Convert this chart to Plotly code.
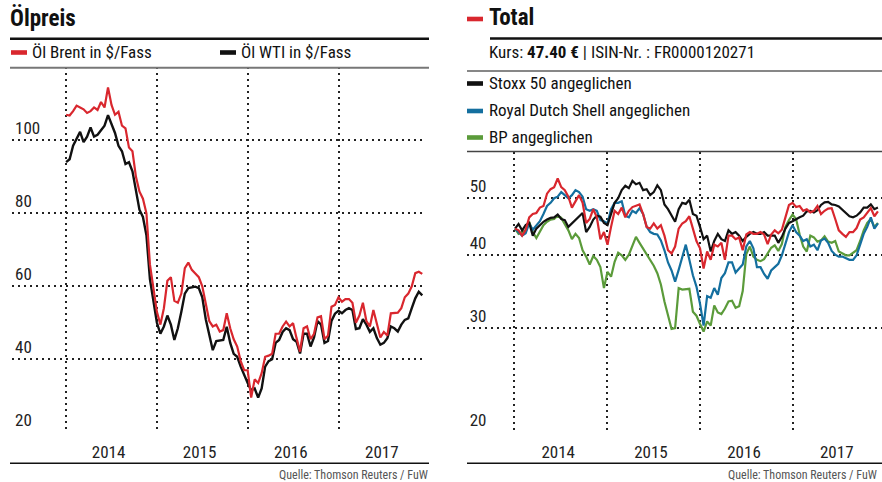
import math
import pandas as pd
import plotly.graph_objects as go

# ---------------- data ----------------
dates = pd.date_range("2014-01-03", periods=103, freq="14D")

brent = [107, 106.8, 108, 109.5, 109, 108.5, 107.5, 108, 109, 108.3,
         110.5, 109, 114.5, 109.7, 107, 107.8, 104, 103.3, 98, 97,
         90, 86, 84, 80, 66, 60, 53, 49.5, 54, 61.5,
         62.5, 56, 55.5, 58, 65, 66.5, 64.5, 63.5, 62.5, 60,
         55, 50.5, 49, 49.5, 47.6, 48, 52.6, 48.5, 45.5, 43.5,
         39.5, 37, 37, 29.5, 34.5, 33.5, 36.2, 40.7, 41, 41.5,
         47, 47, 49, 50.3, 49, 49.9, 45.8, 42.1, 48.5, 49,
         45.5, 47, 51.5, 51.8, 45.5, 46.5, 54.4, 54.9, 57, 55.8,
         56.5, 56.5, 55.5, 50, 52, 55.5, 50.5, 49, 53.5, 49.5,
         46, 47.5, 46.5, 52.6, 52.6, 52.8, 54, 57, 58, 60,
         63.6, 64, 63.4]

wti = [94, 94.8, 98.5, 100.5, 102.3, 99.5, 101, 103.5, 101, 101.5,
       102.8, 104, 106.9, 104.5, 102, 98.5, 97, 93.5, 94, 91.5,
       86, 81, 79, 74, 62, 56, 50, 47, 49, 52,
       49.5, 45.3, 48.5, 53, 58, 59.5, 59.7, 59.9, 59.5, 57,
       51, 47, 42.5, 45, 45.1, 45.3, 48.9, 44.5, 41.5, 40.7,
       38, 35.5, 33.5, 31.5, 32, 29.5, 32, 38, 39.5, 40,
       44.5, 45.3, 47.5, 48.5, 48, 45.5, 44.8, 41.6, 47, 47,
       43.5, 46, 50.5, 49.5, 44.5, 45, 50.5, 52.5, 53.3, 52.6,
       53.5, 54, 53.5, 48.3, 48.5, 51, 49.5, 47.5, 48.5, 45.8,
       44, 44.5, 45.8, 49, 48.5, 47.6, 49.5, 50.8, 51.2, 54,
       56.7, 58.5, 57.5]

stoxx = [44.3, 45.1, 44, 44.9, 45.3, 43.1, 44.3, 44.9, 45.5, 45.9,
         46.2, 46.3, 46.8, 46, 45.8, 44.6, 45.2, 45.9, 46.5, 47.1,
         43.7, 44.6, 45.9, 46.6, 46.4, 45.3, 44.9, 47, 49, 49.9,
         51.5, 52.4, 51.9, 53.4, 52.7, 53, 51.5, 51.7, 50.5, 51.1,
         52.5, 51.5, 48.7, 47.8, 46.6, 45.5, 47.8, 49, 48.8, 49.6,
         46.9, 46.6, 44.6, 42.5, 43.1, 40.5, 42.2, 43.4, 42.5, 42.2,
         44, 43.4, 43.7, 43.1, 42.2, 42.9, 43.4, 43.7, 43.4, 43.4,
         43.7, 43.1, 43.1, 43.1, 41.9, 42.9, 44.3, 45.3, 45.6, 46,
         46.3, 46.6, 47.4, 47.5, 47.2, 47.6, 48.6, 49.1, 49.2, 48.7,
         48.6, 48.3, 47.7, 47.1, 46.5, 46.3, 46.6, 47.2, 48.1, 48.1,
         48.7, 47.8, 48.1]

total = [44.3, 44, 43.1, 44.1, 46.3, 46.9, 47.1, 48.1, 48.4, 50.8,
         51.7, 52.1, 53.9, 52.1, 51.5, 50.2, 48.1, 49.3, 50.5, 49,
         45.3, 46, 47.8, 46.3, 42.5, 43.7, 41.6, 44.6, 47.5, 46.9,
         48.1, 46.3, 47.5, 48.2, 48.4, 48.7, 46.9, 44.6, 44.3, 45.2,
         44.3, 44.9, 43.1, 40.7, 40.2, 41.3, 44.3, 45.2, 45.6, 46.5,
         44.3, 42.2, 41, 37.9, 40.5, 39.2, 41.6, 41.3, 41.9, 39.2,
         43.1, 43.1, 42.5, 42.8, 40.7, 43.3, 43.7, 43.4, 43.4, 43.7,
         43.3, 41.7, 43.3, 44, 43.5, 44.1, 46.3, 48.6, 49, 48.2,
         48.4, 47.5, 47.8, 47.2, 47.5, 48.4, 46.9, 47.5, 47.9, 48,
         46, 44, 43.4, 42.9, 43.7, 43.7, 44.4, 45.9, 46.3, 47.1,
         48, 46.5, 47.4]

shell = [44.3, 43.7, 43.1, 43.5, 45.2, 44.1, 44.9, 45.6, 46.9, 48.4,
         49, 49.9, 50.2, 51.1, 50.5, 49.9, 50.5, 51.5, 51.1, 50.2,
         47.8, 47.5, 47.8, 47.5, 45.8, 45.6, 45.2, 47.8, 49, 49,
         49.3, 46.6, 46.3, 47.5, 47.1, 48, 46.9, 44.6, 43.7, 43.4,
         43.3, 42.3, 40.7, 38.8, 37.6, 36, 37.7, 39.7, 41.6, 39.2,
         36.9, 35.3, 33, 30.3, 34, 33.8, 35.1, 34.2, 36.5, 37.2,
         38.8, 38.8, 37.3, 37.9, 38.5, 41.3, 42.2, 41, 38.1, 38.1,
         37.1, 36.4, 37.6, 38.1, 38.6, 39.9, 41.9, 43.7, 44.9, 43.7,
         43.1, 42.2, 42.5, 41.3, 41.6, 40.7, 42.3, 42.6, 41.9, 40.6,
         40, 39.7, 39.7, 39.4, 39.2, 39.2, 39.9, 41.6, 43.4, 44.6,
         46.3, 44.3, 45.2]

bp = [44.3, 43.4, 43.7, 44, 45.5, 43.7, 42.7, 43.7, 44.9, 45.5,
      45.9, 46, 46.6, 46.2, 45.2, 44, 42.5, 43.4, 42.7, 40.7,
      39.7, 38.5, 39.8, 39.2, 38.1, 35.1, 37.4, 36.7, 38.9, 40.3,
      39.9, 39.2, 40, 41.6, 42.9, 41.9, 41, 40.2, 39.2, 38.3,
      37.2, 35.6, 33.3, 31.7, 29.9, 30, 35.1, 34.9, 34.9, 35,
      32, 31.5, 30.5, 29.6, 30.8, 30.3, 32.8, 31.9, 31.7, 32.4,
      33.3, 33.4, 32.5, 32.7, 34.7, 40.1, 41.3, 39.7, 39.2, 39,
      39.3, 40.2, 41.1, 41.5, 40.6, 41.7, 44.6, 45.8, 46.8, 46,
      43.3, 41.3, 40.5, 43.1, 42.8, 42.1, 42.3, 43, 42.1, 41.9,
      42.2, 40.5, 40.2, 39.9, 39.9, 40.3, 40.7, 42.2, 44, 45.3,
      46, 44.6, 45.3]

years = ["2014", "2015", "2016", "2017"]
year_starts = ["2014-01-01", "2015-01-01", "2016-01-01", "2017-01-01"]
year_labels_at = ["2014-06-22", "2015-06-22", "2016-06-22", "2017-06-22"]
left_yticks = [20, 40, 60, 80, 100]
right_yticks = [20, 30, 40, 50]

# ---------------- style ----------------
RED = "#d9272e"
BLACK = "#111111"
BLUE = "#146f9f"
GREEN = "#5b9b3a"
GRID = "#222222"
FONT = "Roboto Condensed, Liberation Sans Narrow, Arial Narrow, sans-serif"
W, H = 882, 482


def px(x):
    return x / W


def py(y):
    return 1 - y / H


fig = go.Figure()

# left panel
fig.add_trace(go.Scatter(x=dates, y=wti, mode="lines", name="Öl WTI in $/Fass",
                         line=dict(color=BLACK, width=2.4), xaxis="x", yaxis="y"))
fig.add_trace(go.Scatter(x=dates, y=brent, mode="lines", name="Öl Brent in $/Fass",
                         line=dict(color=RED, width=2.2), xaxis="x", yaxis="y"))

# right panel
fig.add_trace(go.Scatter(x=dates, y=bp, mode="lines", name="BP angeglichen",
                         line=dict(color=GREEN, width=2.2), xaxis="x2", yaxis="y2"))
fig.add_trace(go.Scatter(x=dates, y=shell, mode="lines", name="Royal Dutch Shell angeglichen",
                         line=dict(color=BLUE, width=2.2), xaxis="x2", yaxis="y2"))
fig.add_trace(go.Scatter(x=dates, y=stoxx, mode="lines", name="Stoxx 50 angeglichen",
                         line=dict(color=BLACK, width=2.2), xaxis="x2", yaxis="y2"))
fig.add_trace(go.Scatter(x=dates, y=total, mode="lines", name="Total",
                         line=dict(color=RED, width=2.2), xaxis="x2", yaxis="y2"))

DOT = "2px,4px"
tickfont = dict(family=FONT, size=17, color="#222")

xcommon = dict(type="date", tickvals=year_labels_at, ticktext=years, showgrid=False,
               ticks="", showline=False, zeroline=False, tickfont=tickfont,
               ticklabelstandoff=8,
               minor=dict(tickvals=year_starts, showgrid=True, gridcolor=GRID,
                          griddash=DOT, gridwidth=1.6, ticks=""))
ycommon = dict(showgrid=True, gridcolor=GRID, griddash=DOT, gridwidth=1.6,
               ticks="", showline=False, zeroline=False, tickfont=tickfont,
               ticklabelposition="inside top")

fig.update_layout(
    width=W, height=H,
    margin=dict(l=0, r=0, t=0, b=0),
    paper_bgcolor="white", plot_bgcolor="white",
    showlegend=False,
    font=dict(family=FONT),
    xaxis=dict(domain=[px(12), px(426)], range=["2013-05-31", "2017-12-16"],
               anchor="y", **xcommon),
    yaxis=dict(domain=[py(432.3), py(67.3)], range=[20, 120], tickvals=left_yticks,
               anchor="x", **ycommon),
    xaxis2=dict(domain=[px(466.7), 1.0], range=["2013-06-27", "2017-12-17"],
                anchor="y2", **xcommon),
    yaxis2=dict(domain=[py(431.7), py(152)], type="log",
                range=[math.log10(20), 1.7767], tickvals=right_yticks,
                anchor="x2", **ycommon),
)

shapes = []


def hline(x0, x1, y, color, width):
    shapes.append(dict(type="line", xref="paper", yref="paper",
                       x0=px(x0), x1=px(x1), y0=py(y), y1=py(y),
                       line=dict(color=color, width=width)))


def marker(x0, y, color):
    shapes.append(dict(type="rect", xref="paper", yref="paper",
                       x0=px(x0), x1=px(x0 + 16), y0=py(y + 2.3), y1=py(y - 2.3),
                       fillcolor=color, line=dict(width=0)))


# left panel frame lines
hline(10, 429, 38.8, BLACK, 2.6)
hline(10, 429, 67.7, "#777777", 2)
hline(10, 429, 463.3, BLACK, 1.5)
# right panel frame lines
hline(490, 882, 38.5, BLACK, 2.6)
hline(467, 882, 71, BLACK, 1.2)
hline(467, 882, 151.5, "#444444", 1.6)
hline(467, 882, 463.3, BLACK, 1.5)

# legend markers
marker(11, 52.5, RED)
marker(220, 52.5, BLACK)
marker(467, 19, RED)
marker(467, 83.5, BLACK)
marker(467, 111, BLUE)
marker(467, 137.5, GREEN)

annotations = []


def text(x, y, s, size=17, bold=False, color="#111", anchor="left"):
    if bold:
        s = "<b>" + s + "</b>"
    annotations.append(dict(xref="paper", yref="paper", x=px(x), y=py(y), text=s,
                            showarrow=False, xanchor=anchor, yanchor="middle",
                            font=dict(family=FONT, size=size, color=color)))


text(8, 18, "Ölpreis", size=23, bold=True)
text(30, 52, "Öl Brent in $/Fass")
text(239, 52, "Öl WTI in $/Fass")
text(487, 18, "Total", size=23, bold=True)
text(487, 52, "Kurs: <b>47.40 €</b> | ISIN-Nr. : FR0000120271")
text(487, 83, "Stoxx 50 angeglichen")
text(487, 110, "Royal Dutch Shell angeglichen")
text(487, 137, "BP angeglichen")
text(430, 475, "Quelle: Thomson Reuters / FuW", size=12, color="#555", anchor="right")
text(879, 475, "Quelle: Thomson Reuters / FuW", size=12, color="#555", anchor="right")

fig.update_layout(shapes=shapes, annotations=annotations)

fig.write_html("out.html", config={"displayModeBar": False},
               post_script="document.body.style.margin='0';")
